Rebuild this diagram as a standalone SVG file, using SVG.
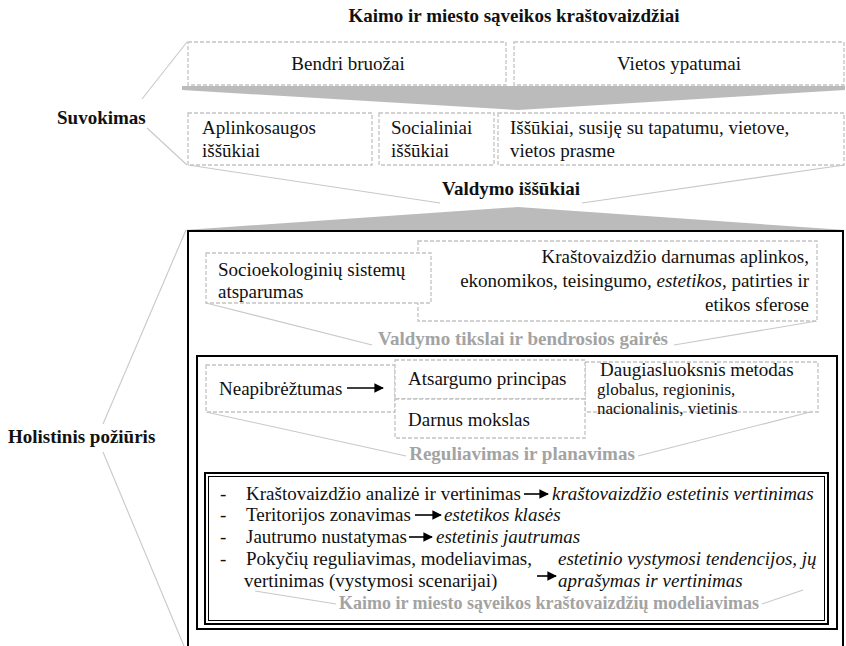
<svg xmlns="http://www.w3.org/2000/svg" width="846" height="646" viewBox="0 0 846 646">
<style>
text{font-family:"Liberation Serif","Times New Roman",serif;font-size:19px;fill:#111}
.b{font-weight:bold}
.g{font-weight:bold;fill:#a3a3a3}
.i{font-style:italic}
.s{font-size:17px}
.d{fill:#fff;stroke:#c4c4c4;stroke-width:1.3;stroke-dasharray:4 2}
.k{fill:none;stroke:#000;stroke-width:2}
.c{fill:none;stroke:#c8c8c8;stroke-width:1.1}
.a{stroke:#000;stroke-width:1.6;marker-end:url(#ah)}
.f{fill:#bbbbbb}
</style>
<defs>
<marker id="ah" viewBox="0 0 10 10" refX="9" refY="5" markerWidth="6" markerHeight="6" orient="auto" markerUnits="strokeWidth">
<path d="M0,0 L10,5 L0,10 z" fill="#000"/>
</marker>
</defs>
<rect width="846" height="646" fill="#fff"/>

<g id="connectors">
<line class="c" x1="187" y1="42" x2="142" y2="99"/>
<line class="c" x1="147" y1="128" x2="187" y2="165"/>
<line class="c" x1="188" y1="165" x2="440" y2="203"/>
<line class="c" x1="844" y1="165" x2="582" y2="203"/>
<line class="c" x1="186" y1="230" x2="103" y2="424"/>
<line class="c" x1="103" y1="452" x2="184" y2="646"/>
<line class="c" x1="206" y1="303" x2="372" y2="345"/>
<line class="c" x1="817" y1="321" x2="674" y2="345"/>
<line class="c" x1="206" y1="412" x2="406" y2="456"/>
<line class="c" x1="818" y1="410" x2="638" y2="456"/>
<line class="c" x1="255" y1="591" x2="336" y2="604"/>
<line class="c" x1="762" y1="604" x2="803" y2="590"/>
</g>

<g id="title"><text class="b" x="514" y="22" text-anchor="middle">Kaimo ir miesto sąveikos kraštovaizdžiai</text></g>

<g id="bendri"><rect class="d" x="188" y="42" width="318" height="43"/><text x="348" y="70" text-anchor="middle">Bendri bruožai</text></g>
<g id="vietos"><rect class="d" x="514" y="42" width="330" height="43"/><text x="679" y="70" text-anchor="middle">Vietos ypatumai</text></g>
<g id="funnel1"><polygon class="f" points="182,86 845,86 845,90 518,110 182,90"/></g>

<g id="suvokimas"><text class="b" x="57" y="124">Suvokimas</text></g>

<g id="aplinko"><rect class="d" x="188" y="113" width="184" height="52"/><text x="202" y="134">Aplinkosaugos</text><text x="202" y="157">iššūkiai</text></g>
<g id="social"><rect class="d" x="379" y="113" width="115" height="52"/><text x="391" y="134">Socialiniai</text><text x="391" y="157">iššūkiai</text></g>
<g id="tapatumas"><rect class="d" x="498" y="113" width="346" height="52"/><text x="510" y="134">Iššūkiai, susiję su tapatumu, vietove,</text><text x="510" y="157">vietos prasme</text></g>

<g id="valdymo"><text class="b" x="511" y="195" text-anchor="middle">Valdymo iššūkiai</text></g>
<g id="funnel2"><polygon class="f" points="185,230 518,207 845,230"/></g>

<g id="holistinis"><rect class="k" x="188" y="231" width="655" height="430"/><text class="b" x="8" y="443">Holistinis požiūris</text></g>

<g id="kras"><rect class="d" x="418" y="241" width="399" height="80"/>
<text x="809" y="263" text-anchor="end">Kraštovaizdžio darnumas aplinkos,</text>
<text x="809" y="287" text-anchor="end">ekonomikos, teisingumo, <tspan class="i">estetikos</tspan>, patirties ir</text>
<text x="809" y="311" text-anchor="end">etikos sferose</text></g>
<g id="socio"><rect class="d" x="206" y="253" width="225" height="50"/><text x="218" y="276">Socioekologinių sistemų</text><text x="218" y="298">atsparumas</text></g>
<g id="tikslai"><text class="g" x="523" y="345" text-anchor="middle">Valdymo tikslai ir bendrosios gairės</text></g>

<g id="reguliavimas-box"><rect class="k" x="197" y="356" width="640" height="273"/></g>
<g id="neap"><rect class="d" x="206" y="365" width="189" height="47"/><text x="219" y="395">Neapibrėžtumas</text><line class="a" x1="347" y1="388" x2="383" y2="388"/></g>
<g id="daug"><rect class="d" x="585" y="362" width="233" height="50"/><text x="600" y="376">Daugiasluoksnis metodas</text><text class="s" x="597" y="395">globalus, regioninis,</text><text class="s" x="597" y="414">nacionalinis, vietinis</text></g>
<g id="atsargumo"><rect class="d" x="395" y="360" width="190" height="39"/><text x="408" y="385">Atsargumo principas</text></g>
<g id="darnus"><rect class="d" x="395" y="399" width="190" height="39"/><text x="408" y="426">Darnus mokslas</text></g>
<g id="planavimas"><text class="g" x="522" y="460" text-anchor="middle">Reguliavimas ir planavimas</text></g>

<g id="modeliavimas"><rect class="k" x="205" y="473" width="623" height="151"/><rect fill="none" stroke="#000" stroke-width="1" x="208.5" y="476.5" width="616" height="144"/>
<text x="220" y="500">-</text><text x="246" y="500">Kraštovaizdžio analizė ir vertinimas</text><line class="a" x1="524" y1="494" x2="548" y2="494"/><text class="i" x="552" y="500">kraštovaizdžio estetinis vertinimas</text>
<text x="220" y="521">-</text><text x="246" y="521">Teritorijos zonavimas</text><line class="a" x1="415" y1="515" x2="441" y2="515"/><text class="i" x="444" y="521">estetikos klasės</text>
<text x="220" y="543">-</text><text x="246" y="543">Jautrumo nustatymas</text><line class="a" x1="409" y1="537" x2="432" y2="537"/><text class="i" x="436" y="543">estetinis jautrumas</text>
<text x="220" y="565">-</text><text x="246" y="565">Pokyčių reguliavimas, modeliavimas,</text><text x="244" y="587">vertinimas (vystymosi scenarijai)</text>
<line class="a" x1="537" y1="576" x2="556" y2="576"/><text class="i" x="558" y="565">estetinio vystymosi tendencijos, jų</text><text class="i" x="558" y="587">aprašymas ir vertinimas</text>
<text class="g" x="549" y="609" text-anchor="middle" style="font-size:18px">Kaimo ir miesto sąveikos kraštovaizdžių modeliavimas</text></g>
</svg>
